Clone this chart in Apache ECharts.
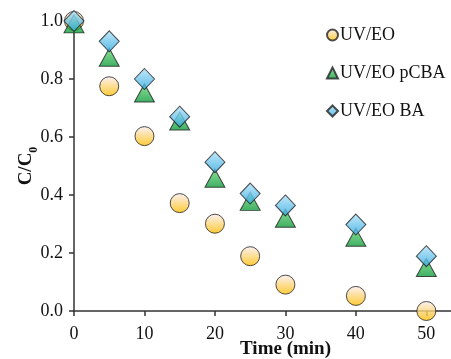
<!DOCTYPE html>
<html><head><meta charset="utf-8">
<script src="https://cdn.jsdelivr.net/npm/echarts@6/dist/echarts.min.js"></script>
<style>html,body{margin:0;padding:0;background:#fff}#c{width:451px;height:359px}</style>
</head><body><div id="c"></div>
<script>
var times = [0, 5, 10, 15, 20, 25, 30, 40, 50];
var uvEO = [1.0, 0.775, 0.603, 0.372, 0.301, 0.189, 0.091, 0.052, 0.0];
var uvEOpCBA = [0.99, 0.875, 0.752, 0.655, 0.458, 0.378, 0.32, 0.254, 0.15];
var uvEOBA = [1.0, 0.93, 0.80, 0.67, 0.513, 0.405, 0.364, 0.298, 0.189];
var xTicks = [0, 10, 20, 30, 40, 50];
var seriesNames = ['UV/EO', 'UV/EO pCBA', 'UV/EO BA'];

function grad(a, b) {
  return {type: 'linear', x: 0, y: 0, x2: 0, y2: 1, colorStops: [{offset: 0, color: a}, {offset: 1, color: b}]};
}
function pairs(ys) { return times.map(function (t, i) { return [t, ys[i]]; }); }

var font = '"Liberation Serif", "Times New Roman", serif';
var chart = echarts.init(document.getElementById('c'));
chart.setOption({
  animation: false,
  textStyle: {fontFamily: font},
  grid: {left: 74, right: 0, top: 21, bottom: 48, containLabel: false, outerBoundsMode: 'none'},
  legend: {
    orient: 'vertical', left: 321, top: 21, itemGap: 20, itemWidth: 11, itemHeight: 11,
    textStyle: {fontFamily: font, fontSize: 18, color: '#111', padding: [0, 0, 0, -3]},
    data: seriesNames
  },
  xAxis: {
    type: 'value', min: 0, max: 53.5,
    name: 'Time (min)', nameLocation: 'middle', nameGap: 29, nameMoveOverlap: false,
    nameTextStyle: {fontFamily: font, fontSize: 19, fontWeight: 'bold', color: '#111', padding: [0, 0, 0, 46]},
    axisLine: {show: true, lineStyle: {color: '#333', width: 1.5}},
    axisTick: {show: true, length: 5, inside: false, customValues: xTicks, lineStyle: {color: '#333', width: 1.5}},
    axisLabel: {fontFamily: font, fontSize: 18, color: '#111', margin: 14, customValues: xTicks},
    splitLine: {show: false}
  },
  yAxis: {
    type: 'value', min: 0, max: 1.0, interval: 0.2,
    name: '{a|C/C}{s|0}', nameLocation: 'middle', nameGap: 38, nameRotate: 90, nameMoveOverlap: false,
    nameTextStyle: {
      fontFamily: font, fontSize: 19, fontWeight: 'bold', color: '#111',
      rich: {
        a: {fontFamily: font, fontSize: 19, fontWeight: 'bold', color: '#111'},
        s: {fontFamily: font, fontSize: 12, fontWeight: 'bold', color: '#111', verticalAlign: 'bottom', padding: [0, 0, -4, 0]}
      }
    },
    axisLine: {show: true, lineStyle: {color: '#333', width: 1.5}},
    axisTick: {show: true, length: 5, inside: false, lineStyle: {color: '#333', width: 1.5}},
    axisLabel: {fontFamily: font, fontSize: 18, color: '#111', margin: 11, formatter: function (v) { return v.toFixed(1); }},
    splitLine: {show: false}
  },
  series: [
    {name: seriesNames[0], type: 'scatter', symbol: 'circle', symbolSize: 19, z: 2,
     itemStyle: {color: grad('#fbeef2', '#ffbd00'), borderColor: '#222', borderWidth: 1},
     data: pairs(uvEO)},
    {name: seriesNames[1], type: 'scatter', symbol: 'triangle', symbolSize: [20, 18], z: 3,
     itemStyle: {color: grad('#6fdc7a', '#0e9a3c'), borderColor: '#222', borderWidth: 1},
     data: pairs(uvEOpCBA)},
    {name: seriesNames[2], type: 'scatter', symbol: 'diamond', symbolSize: [20, 21], z: 4,
     itemStyle: {color: grad('#b3e3f8', '#2fa8e0'), borderColor: '#222', borderWidth: 1},
     data: pairs(uvEOBA)}
  ]
});
</script></body></html>
